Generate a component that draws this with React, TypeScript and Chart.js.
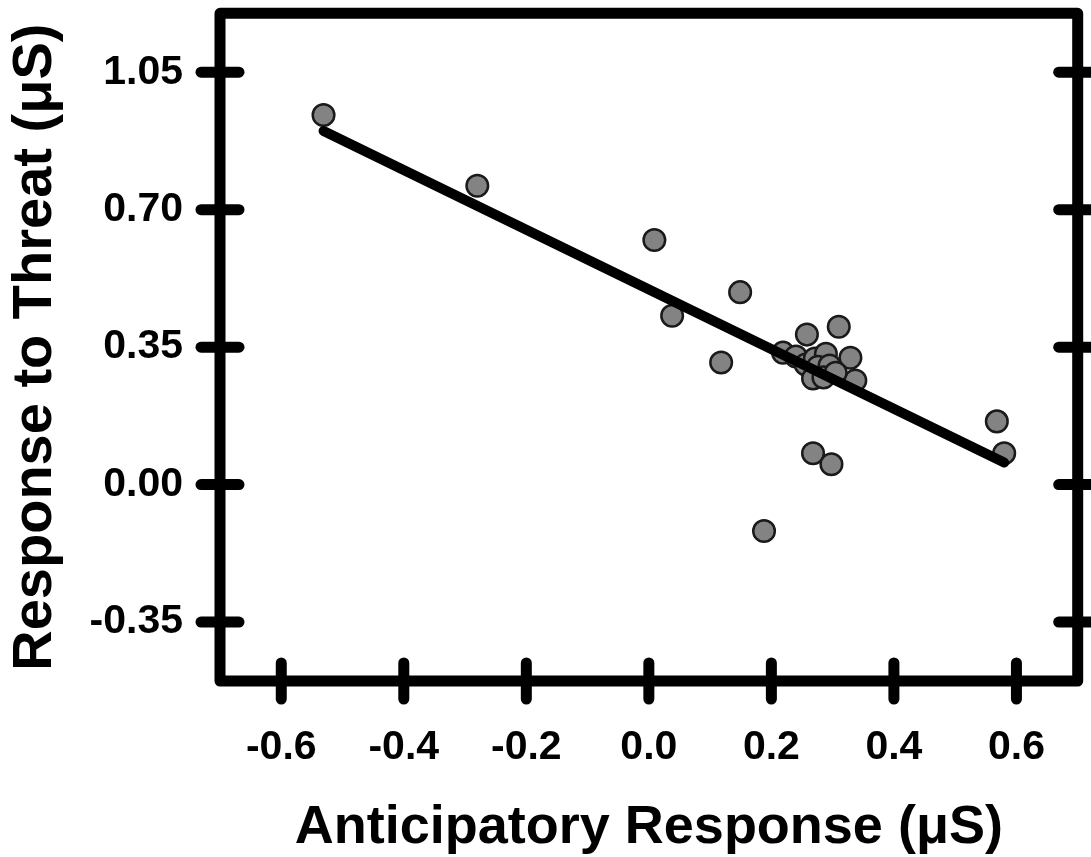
import React, { useEffect, useRef } from "react";
import { Chart, registerables } from "chart.js";

Chart.register(...registerables);

// Data
const anticipatory = [
  -0.531, -0.28, 0.009, 0.149, 0.038, 0.118, 0.188, 0.268, 0.298, 0.568, 0.58,
  0.258, 0.31, 0.329, 0.337, 0.219, 0.24, 0.256, 0.271, 0.289, 0.276, 0.295,
  0.268, 0.285, 0.305,
];
const threat = [
  0.941, 0.761, 0.623, 0.49, 0.43, 0.311, -0.118, 0.08, 0.052, 0.161, 0.08,
  0.382, 0.402, 0.323, 0.265, 0.336, 0.326, 0.306, 0.321, 0.333, 0.3, 0.303,
  0.27, 0.273, 0.285,
];
const fitSlope = -0.76;
const fitIntercept = 0.497;

const xTickValues = [-0.6, -0.4, -0.2, 0.0, 0.2, 0.4, 0.6];
const yTickValues = [-0.35, 0.0, 0.35, 0.7, 1.05];
const xRange = [-0.7, 0.7];
const yRange = [-0.5, 1.2];

const xTitle = "Anticipatory Response (μS)";
const yTitle = "Response to Threat (μS)";

const FONT = "'Liberation Sans', Arial, Helvetica, sans-serif";

const framePlugin = {
  id: "frame",
  afterDraw(chart: any) {
    const { ctx, chartArea: a, scales } = chart;
    ctx.save();
    ctx.strokeStyle = "#000";
    ctx.lineWidth = 11;
    ctx.lineJoin = "round";
    ctx.lineCap = "round";
    ctx.strokeRect(a.left, a.top, a.right - a.left, a.bottom - a.top);
    const seg = (x1: number, y1: number, x2: number, y2: number) => {
      ctx.beginPath();
      ctx.moveTo(x1, y1);
      ctx.lineTo(x2, y2);
      ctx.stroke();
    };
    for (const t of scales.y.ticks) {
      const p = scales.y.getPixelForValue(t.value);
      seg(a.left - 19, p, a.left + 19, p);
      seg(a.right - 19, p, a.right + 19, p);
    }
    for (const t of scales.x.ticks) {
      const p = scales.x.getPixelForValue(t.value);
      seg(p, a.bottom - 18, p, a.bottom + 18);
    }
    ctx.restore();
  },
};

export default function App() {
  const ref = useRef<HTMLCanvasElement | null>(null);

  useEffect(() => {
    if (!ref.current) return;
    const points = anticipatory.map((x, i) => ({ x, y: threat[i] }));
    const xMin = Math.min(...anticipatory);
    const xMax = Math.max(...anticipatory);
    const fitLine = [xMin, xMax].map((x) => ({ x, y: fitIntercept + fitSlope * x }));

    const chart = new Chart(ref.current, {
      type: "scatter",
      data: {
        datasets: [
          {
            type: "line",
            data: fitLine,
            borderColor: "#000",
            borderWidth: 10,
            borderCapStyle: "round",
            pointRadius: 0,
            fill: false,
            order: 0,
          } as any,
          {
            data: points,
            backgroundColor: "#838383",
            borderColor: "#1a1a1a",
            borderWidth: 2.5,
            pointRadius: 10.8,
            order: 1,
          },
        ],
      },
      options: {
        animation: false,
        responsive: false,
        devicePixelRatio: 1,
        layout: { padding: { left: 0, right: 10, top: 10, bottom: 0 } },
        plugins: { legend: { display: false }, tooltip: { enabled: false } },
        scales: {
          x: {
            type: "linear",
            position: "bottom",
            min: xRange[0],
            max: xRange[1],
            grid: { display: false, drawTicks: false },
            border: { display: false },
            afterBuildTicks: (s: any) => {
              s.ticks = xTickValues.map((v) => ({ value: v }));
            },
            afterFit: (s: any) => {
              s.height = 176;
              s.paddingLeft = 0;
              s.paddingRight = 0;
            },
            ticks: {
              autoSkip: false,
              maxRotation: 0,
              padding: 42,
              color: "#000",
              font: { family: FONT, size: 41, weight: "bold" },
              callback: (v: any) => Number(v).toFixed(1),
            },
            title: {
              display: true,
              text: xTitle,
              color: "#000",
              padding: { top: 0, bottom: 2 },
              font: { family: FONT, size: 54, weight: "bold", lineHeight: 1 },
            },
          },
          y: {
            type: "linear",
            position: "left",
            min: yRange[0],
            max: yRange[1],
            grid: { display: false, drawTicks: false },
            border: { display: false },
            afterBuildTicks: (s: any) => {
              s.ticks = yTickValues.map((v) => ({ value: v }));
            },
            afterFit: (s: any) => {
              s.width = 220;
              s.paddingTop = 0;
              s.paddingBottom = 0;
            },
            ticks: {
              autoSkip: false,
              padding: 37,
              color: "#000",
              font: { family: FONT, size: 41, weight: "bold" },
              callback: (v: any) => Number(v).toFixed(2),
            },
            title: {
              display: true,
              text: yTitle,
              color: "#000",
              padding: { top: 8, bottom: 0 },
              font: { family: FONT, size: 56, weight: "bold", lineHeight: 1 },
            },
          },
        },
      },
      plugins: [framePlugin],
    } as any);
    return () => chart.destroy();
  }, []);

  return (
    <div style={{ position: "absolute", left: 0, top: 0, width: 1091, height: 857, background: "#fff" }}>
      <canvas ref={ref} width={1091} height={857} style={{ display: "block" }} />
    </div>
  );
}
